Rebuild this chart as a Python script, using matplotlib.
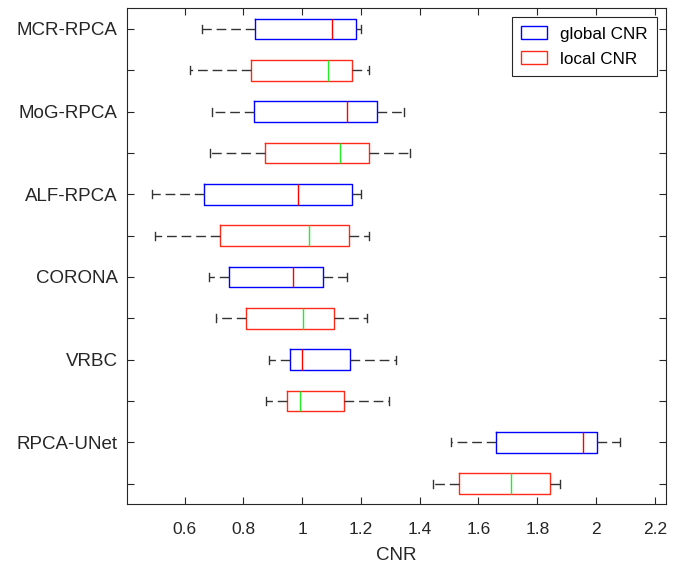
import matplotlib.pyplot as plt
from matplotlib.patches import Patch

plt.rcParams["font.family"] = ["Liberation Sans", "DejaVu Sans"]

methods = ["MCR-RPCA", "MoG-RPCA", "ALF-RPCA", "CORONA", "VRBC", "RPCA-UNet"]

# global CNR: lower whisker, Q1, median, Q3, upper whisker
global_lo = [0.658, 0.693, 0.489, 0.684, 0.887, 1.507]
global_q1 = [0.838, 0.835, 0.667, 0.750, 0.960, 1.659]
global_med = [1.103, 1.154, 0.987, 0.970, 0.998, 1.954]
global_q3 = [1.182, 1.253, 1.169, 1.071, 1.163, 2.004]
global_hi = [1.200, 1.348, 1.200, 1.152, 1.318, 2.081]

# local CNR
local_lo = [0.618, 0.685, 0.499, 0.707, 0.878, 1.444]
local_q1 = [0.826, 0.875, 0.719, 0.810, 0.948, 1.533]
local_med = [1.088, 1.130, 1.023, 1.003, 0.991, 1.712]
local_q3 = [1.169, 1.226, 1.160, 1.108, 1.143, 1.843]
local_hi = [1.226, 1.368, 1.226, 1.220, 1.294, 1.878]

xticks = [0.6, 0.8, 1.0, 1.2, 1.4, 1.6, 1.8, 2.0, 2.2]
xticklabels = ["0.6", "0.8", "1", "1.2", "1.4", "1.6", "1.8", "2", "2.2"]

ink = "#262626"

stats = []
for i in range(len(methods)):
    stats.append(dict(whislo=global_lo[i], q1=global_q1[i], med=global_med[i],
                      q3=global_q3[i], whishi=global_hi[i], fliers=[]))
    stats.append(dict(whislo=local_lo[i], q1=local_q1[i], med=local_med[i],
                      q3=local_q3[i], whishi=local_hi[i], fliers=[]))
positions = list(range(1, len(stats) + 1))

fig = plt.figure(figsize=(6.83, 5.65), dpi=100)
ax = fig.add_axes([0.1864, 0.1074, 0.7887, 0.8779])

res = ax.bxp(stats, positions=positions, widths=0.5, capwidths=0.2,
             orientation="horizontal", showfliers=False,
             boxprops=dict(linewidth=1.0),
             whiskerprops=dict(color="#333333", linewidth=1.0, linestyle=(0, (7, 3.5))),
             capprops=dict(color="#333333", linewidth=1.0),
             medianprops=dict(linewidth=1.0))

for j, box in enumerate(res["boxes"]):
    box.set_color("#0000ff" if j % 2 == 0 else "#ff2a1a")
for j, med in enumerate(res["medians"]):
    med.set_color("#ff0000" if j % 2 == 0 else "#22ee22")

ax.set_ylim(12.5, 0.5)
ax.set_xlim(0.405, 2.238)
ax.set_yticks(positions)
ax.set_yticklabels([m if k == 0 else "" for m in methods for k in range(2)], fontsize=13.5)
ax.set_xticks(xticks)
ax.set_xticklabels(xticklabels, fontsize=12.5)
ax.set_xlabel("CNR", fontsize=13.5, color=ink, labelpad=7)

ax.tick_params(direction="in", length=5, width=0.8, color=ink, labelcolor=ink,
               top=True, right=True)
ax.tick_params(axis="y", pad=7)
ax.tick_params(axis="x", pad=13)
for sp in ax.spines.values():
    sp.set_color(ink)
    sp.set_linewidth(0.8)

handles = [Patch(facecolor="none", edgecolor="#0000ff", label="global CNR"),
           Patch(facecolor="none", edgecolor="#ff2a1a", label="local CNR")]
leg = ax.legend(handles=handles, loc="upper right", fontsize=12.3, fancybox=False,
                framealpha=1, edgecolor=ink, borderaxespad=0.5,
                handlelength=1.5, handleheight=0.8, handletextpad=0.8,
                labelspacing=0.55, borderpad=0.55)
leg.get_frame().set_linewidth(0.8)

fig.savefig("out.png", dpi=100)
